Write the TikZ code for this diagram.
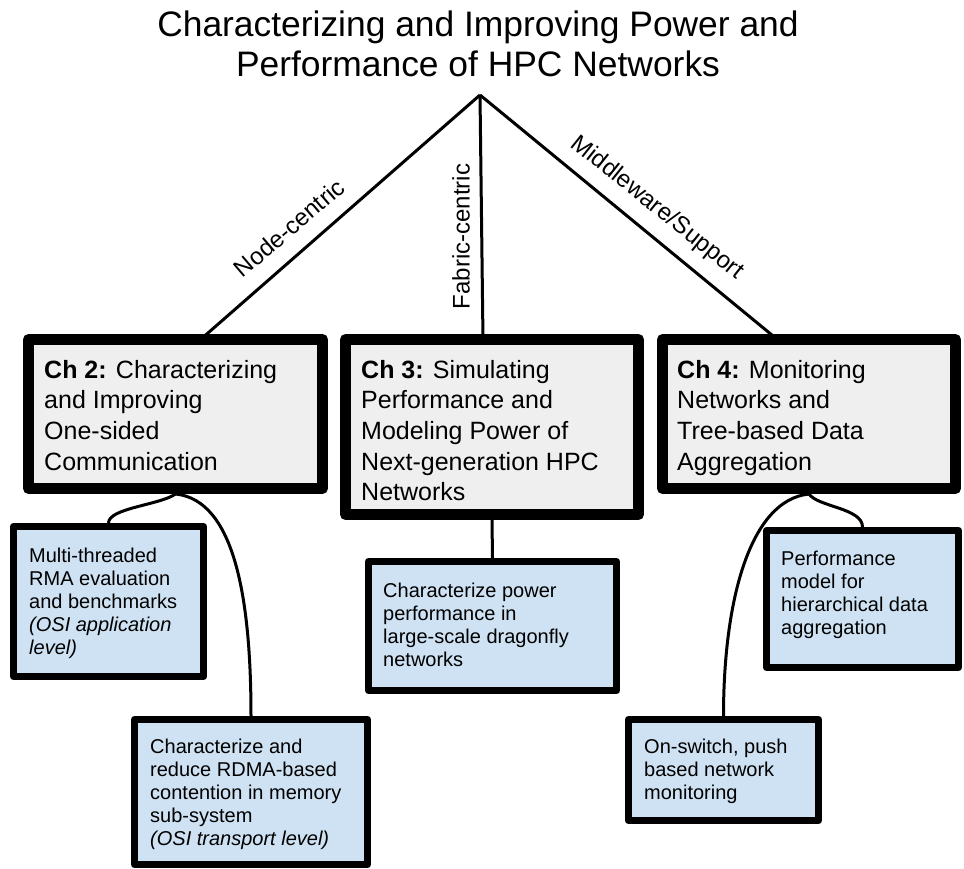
\documentclass[tikz,border=0pt]{standalone}
\usepackage{fontspec}
\setmainfont{Liberation Sans}
\usetikzlibrary{backgrounds}
\definecolor{chfill}{HTML}{EFEFEF}
\definecolor{subfill}{HTML}{CFE2F3}
\begin{document}
\begin{tikzpicture}[x=1pt,y=-1pt,
  chbox/.style={draw=black, line width=11pt, line join=round, fill=chfill, inner sep=0pt},
  subbox/.style={draw=black, line width=7pt, line join=round, fill=subfill, inner sep=0pt},
  link/.style={draw=black, line width=3pt},
  titletext/.style={anchor=base, inner sep=0pt, font=\fontsize{35.4}{40}\selectfont},
  branchlbl/.style={inner sep=0pt, font=\fontsize{24}{28}\selectfont},
  chtext/.style={anchor=base west, inner sep=0pt, font=\fontsize{25}{30.7}\selectfont},
  subtext/.style={anchor=base west, inner sep=0pt, font=\fontsize{20}{23}\selectfont}]
\useasboundingbox (0,0) rectangle (964,869);

% title
\node[titletext] (t1) at (478,37) {Characterizing and Improving Power and};
\node[titletext] (t2) at (478,77) {Performance of HPC Networks};
\coordinate (apex) at (480,95);

% chapter boxes
\node[chbox, minimum width=294pt, minimum height=149pt] (ch2) at (175.5,414) {};
\node[chbox, minimum width=293pt, minimum height=175pt] (ch3) at (492,427) {};
\node[chbox, minimum width=293pt, minimum height=149pt] (ch4) at (809,414) {};

% contribution boxes
\node[subbox, minimum width=190pt, minimum height=150pt] (sa) at (108.5,601.5) {};
\node[subbox, minimum width=233pt, minimum height=145pt] (sb) at (251,792) {};
\node[subbox, minimum width=248pt, minimum height=129pt] (sc) at (492.5,626) {};
\node[subbox, minimum width=192pt, minimum height=137pt] (sd) at (862.5,599) {};
\node[subbox, minimum width=190pt, minimum height=101pt] (se) at (723.5,770) {};

% ends of the branch lines on the chapter box tops
\coordinate (e2) at (200,340);
\coordinate (e3) at (483,340);
\coordinate (e4) at (778,340);

\begin{scope}[on background layer]
  \draw[link] (apex) -- (e2);
  \draw[link] (apex) -- (e3);
  \draw[link] (apex) -- (e4);
  \draw[link] (ch2.south) .. controls (160,505) and (108.5,508) .. (sa.north);
  \draw[link] (ch2.south) .. controls (235,500) and (251,600) .. (sb.north);
  \draw[link] (ch3.south) -- (sc.north);
  \draw[link] (ch4.south) .. controls (818,507) and (862.5,508) .. (sd.north);
  \draw[link] (ch4.south) .. controls (750,500) and (723.5,600) .. (se.north);
\end{scope}

% branch labels
\node[branchlbl, rotate=40.5] (lnode) at (289,228) {Node-centric};
\node[branchlbl, rotate=90] (lfab) at (461,236.5) {Fabric-centric};
\node[branchlbl, rotate=-38.7] (lmid) at (657,208) {Middleware/Support};

% chapter texts
\node[chtext] (ch2t) at (44,378) {\parbox[t]{275pt}{\textbf{Ch 2:} Characterizing\\and Improving\\One-sided\\Communication}};
\node[chtext] (ch3t) at (361,378) {\parbox[t]{275pt}{\textbf{Ch 3:} Simulating\\Performance and\\Modeling Power of\\Next-generation HPC\\Networks}};
\node[chtext] (ch4t) at (677,378) {\parbox[t]{275pt}{\textbf{Ch 4:} Monitoring\\Networks and\\Tree-based Data\\Aggregation}};

% contribution texts
\node[subtext] (sat) at (29,562) {\parbox[t]{180pt}{Multi-threaded\\RMA evaluation\\and benchmarks\\\textit{(OSI application}\\\textit{level)}}};
\node[subtext] (sbt) at (150,753) {\parbox[t]{220pt}{Characterize and\\reduce RDMA-based\\contention in memory\\sub-system\\\textit{(OSI transport level)}}};
\node[subtext] (sct) at (383,597) {\parbox[t]{230pt}{Characterize power\\performance in\\large-scale dragonfly\\networks}};
\node[subtext] (sdt) at (781,565) {\parbox[t]{180pt}{Performance\\model for\\hierarchical data\\aggregation}};
\node[subtext] (set) at (644,753) {\parbox[t]{180pt}{On-switch, push\\based network\\monitoring}};
\end{tikzpicture}
\end{document}
